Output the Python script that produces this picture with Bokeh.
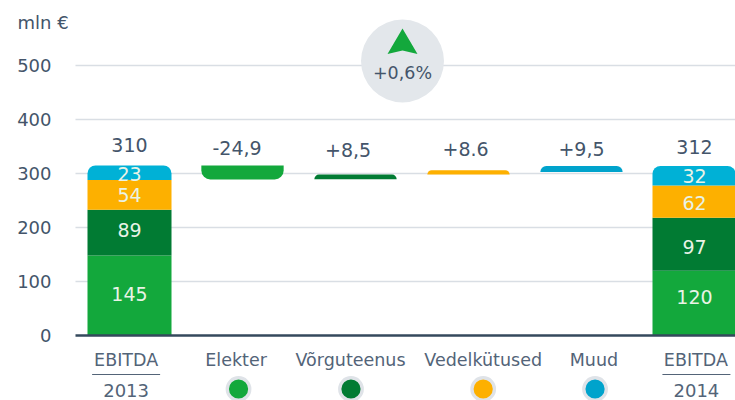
from bokeh.plotting import figure
from bokeh.models import FixedTicker
from bokeh.core.properties import value
from bokeh.embed import file_html
from bokeh.resources import INLINE

# ---- data ----
categories = ["EBITDA", "Elekter", "Võrguteenus", "Vedelkütused", "Muud", "EBITDA"]
y_ticks = [0, 100, 200, 300, 400, 500]
x_pos = [0, 1, 2, 3, 4, 5]
cat_label_x = [-0.03, 0.943, 1.956, 3.13, 4.11, 5.012]
years = ["2013", "2014"]
year_x = [-0.03, 5.017]
unit_label = ["mln €"]

s2013_heights = [148, 85, 55, 27]
s2014_heights = [120, 98, 60, 36]
s2013_labels = ["145", "89", "54", "23"]
s2014_labels = ["120", "97", "62", "32"]
s2013_label_y = [76, 195, 261, 300]
s2014_label_y = [72, 164, 245, 296]

delta_bottoms = [289, 289.5, 298, 303]
delta_tops = [315, 298, 306, 314]
delta_x = [1, 2, 3, 4]
dot_x = [0.965, 1.96, 3.13, 4.12]

top_labels = ["310", "-24,9", "+8,5", "+8.6", "+9,5", "312"]
top_label_x = [0, 0.952, 1.934, 2.974, 4, 5]
top_label_y = [352, 348, 343, 345, 346, 350]

GREEN, DGREEN, ORANGE, CYAN, BLUE = "#13a83c", "#017b33", "#fdb000", "#00b1d6", "#00a3cc"
stack_colors = [GREEN, DGREEN, ORANGE, CYAN]
delta_colors = [GREEN, DGREEN, ORANGE, BLUE]
TXT = "#44556a"
TXT2 = "#536478"
FONT = "DejaVu Sans"

# ---- layout: the frame fills the canvas; data are mapped through these ----
W, H = 735, 400
ZERO, CAT0 = 335, 129
PX_X, PX_Y = 113.0, 0.54
x0 = -CAT0 / PX_X
x1 = x0 + W / PX_X
y1 = ZERO / PX_Y
y0 = -(H - ZERO) / PX_Y
PLOT_LEFT = (75 - CAT0) / PX_X

p = figure(width=W, height=H, x_range=(x0, x1), y_range=(y0, y1),
           output_backend="svg", toolbar_location=None,
           min_border_left=0, min_border_right=0, min_border_top=0, min_border_bottom=0)
p.outline_line_color = None
p.xgrid.visible = False
p.ygrid.visible = False

ya = p.yaxis[0]
ya.fixed_location = PLOT_LEFT
ya.ticker = FixedTicker(ticks=y_ticks)
ya.axis_line_color = None
ya.major_tick_line_color = None
ya.minor_tick_line_color = None
ya.major_label_text_font = FONT
ya.major_label_text_font_size = "18px"
ya.major_label_text_color = TXT
ya.major_label_standoff = 18

xa = p.xaxis[0]
xa.fixed_location = 0
xa.bounds = (PLOT_LEFT, x1)
xa.ticker = FixedTicker(ticks=cat_label_x)
xa.major_label_overrides = {i: c for i, c in zip(cat_label_x, categories)}
xa.axis_line_color = "#34495c"
xa.axis_line_width = 2.5
xa.major_tick_line_color = None
xa.minor_tick_line_color = None
xa.major_label_text_font = FONT
xa.major_label_text_font_size = "17.5px"
xa.major_label_text_color = TXT2
xa.major_label_standoff = 8

# gridlines stop at the plot's left edge
p.segment(x0=[PLOT_LEFT] * 5, x1=[x1] * 5, y0=y_ticks[1:], y1=y_ticks[1:],
          line_color="#d9dee4", line_width=1.5)

# unit caption
p.text(x=[(17 - CAT0) / PX_X], y=[(ZERO - 22) / PX_Y], text=unit_label, text_color=TXT,
       text_font=value(FONT), text_font_size="18px", text_align="left", text_baseline="middle")

BW = 84 / PX_X
# stacked bars
for x, hs in ((0, s2013_heights), (5, s2014_heights)):
    b = 0
    for i, (h, c) in enumerate(zip(hs, stack_colors)):
        r = 8 if i == 3 else 0
        p.vbar(x=[x], bottom=[b], top=[b + h], width=BW, fill_color=c, line_color=None,
               border_radius=(r, r, 0, 0))
        b += h

# floating bars
for i, (x, bo, to, c) in enumerate(zip(delta_x, delta_bottoms, delta_tops, delta_colors)):
    rad = (0, 0, 9, 9) if i == 0 else (8, 8, 0, 0)
    p.vbar(x=[x], bottom=[bo], top=[to], width=BW * 0.98, fill_color=c, line_color=None,
           border_radius=rad)

# stack labels
for x, ls, ys in ((0, s2013_labels, s2013_label_y), (5, s2014_labels, s2014_label_y)):
    p.text(x=[x] * 4, y=ys, text=ls, text_color="#e9f3e6", text_font=value(FONT),
           text_font_size="19px", text_align="center", text_baseline="middle")

p.text(x=top_label_x, y=top_label_y, text=top_labels, text_color=TXT, text_font=value(FONT),
       text_font_size="19px", text_align="center", text_baseline="middle")

# percent badge
bx = (402 - CAT0) / PX_X
p.scatter(x=[bx], y=[(ZERO - 60.5) / PX_Y], size=83, marker="circle",
          fill_color="#e3e7eb", line_color=None)
p.patch(x=[bx, bx + 15 / PX_X, bx, bx - 15 / PX_X],
        y=[(ZERO - 28) / PX_Y, (ZERO - 53.5) / PX_Y, (ZERO - 50) / PX_Y, (ZERO - 53.5) / PX_Y],
        fill_color=GREEN, line_color=None)
p.text(x=[bx], y=[(ZERO - 72) / PX_Y], text=["+0,6%"], text_color=TXT, text_font=value(FONT),
       text_font_size="17.5px", text_align="center", text_baseline="middle")

# below-axis decorations
LOW = -(374 - ZERO) / PX_Y
p.segment(x0=[x - 34 / PX_X for x in year_x], x1=[x + 34 / PX_X for x in year_x],
          y0=[LOW, LOW], y1=[LOW, LOW], line_color=TXT2, line_width=1.2)
p.text(x=year_x, y=[-(389.5 - ZERO) / PX_Y] * 2, text=years, text_color=TXT2,
       text_font=value(FONT), text_font_size="18px", text_align="center",
       text_baseline="middle")
DOT_Y = -(388.5 - ZERO) / PX_Y
p.scatter(x=dot_x, y=[DOT_Y] * 4, size=22.5, marker="circle", fill_color=delta_colors,
          line_color="#dfe3e8", line_width=3.3)

open("out.html", "w").write(file_html(p, INLINE))
